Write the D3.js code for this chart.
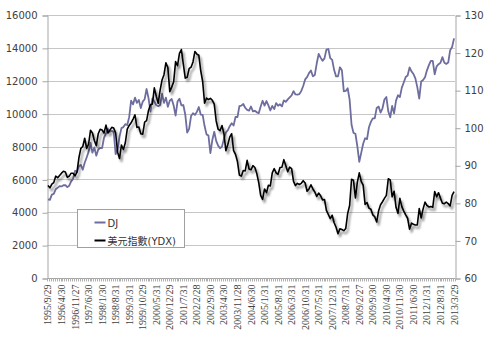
<!DOCTYPE html>
<html>
<head>
<meta charset="utf-8">
<script src="https://cdn.jsdelivr.net/npm/d3@7/dist/d3.min.js"></script>
<style>
  html, body { margin: 0; padding: 0; background: #fff; }
  svg { display: block; }
</style>
</head>
<body>
<svg id="chart" width="489" height="344"></svg>
<script>
// Month-end Dow Jones Industrial Average closes, 1995/9 – 2013/3
const djValues = [
  4789, 4756, 5075, 5117,
  5395, 5486, 5587, 5569, 5643, 5655, 5529, 5616, 5882, 6029, 6522, 6448,
  6813, 6878, 6584, 7009, 7331, 7673, 8223, 7622, 7945, 7442, 7823, 7908,
  7907, 8546, 8800, 9063, 8900, 8952, 8883, 7539, 7843, 8592, 9117, 9181,
  9359, 9307, 9786, 10789, 10560, 10971, 10655, 10829, 10337, 10729, 10878, 11497,
  10941, 10128, 10922, 10734, 10522, 10448, 10522, 11215, 10651, 10971, 10415, 10788,
  10887, 10495, 9879, 10735, 10912, 10502, 10523, 9950, 8848, 9075, 9852, 10022,
  9920, 10106, 10404, 9946, 9925, 9243, 8737, 8664, 7592, 8397, 8896, 8342,
  8054, 7891, 7992, 8480, 8850, 8985, 9234, 9416, 9275, 9801, 9782, 10454,
  10488, 10584, 10358, 10226, 10188, 10435, 10140, 10174, 10080, 10027, 10428, 10783,
  10490, 10766, 10504, 10193, 10467, 10275, 10641, 10482, 10569, 10440, 10806, 10718,
  10865, 10993, 11109, 11367, 11168, 11150, 11186, 11381, 11679, 12081, 12222, 12463,
  12622, 12269, 12354, 13063, 13628, 13409, 13212, 13358, 13896, 13930, 13372, 13265,
  12650, 12266, 12263, 12820, 12638, 11350, 11378, 11544, 10851, 9325, 8829, 8776,
  8001, 7063, 7609, 8168, 8500, 8447, 9172, 9496, 9712, 9713, 10345, 10428,
  10067, 10325, 10857, 11009, 10137, 9774, 10466, 10015, 10788, 11118, 11006, 11578,
  11892, 12226, 12320, 12811, 12570, 12414, 12143, 11614, 10913, 11955, 12046, 12218,
  12633, 12952, 13212, 13214, 12393, 12880, 13009, 13091, 13437, 13096, 13026, 13104,
  13861, 14054, 14579
];

// Month-end US dollar index (YDX), same months
const ydxValues = [
  84.6, 84.0, 85.0, 85.4,
  87.1, 86.7, 87.3, 87.9, 88.4, 88.2, 86.8, 87.1, 87.9, 87.9, 87.2, 88.2,
  92.0, 94.5, 95.0, 97.2, 94.5, 95.6, 99.3, 98.6, 96.6, 95.2, 98.4, 99.6,
  99.4, 98.6, 100.7, 98.6, 99.3, 100.1, 99.9, 98.6, 93.5, 91.8, 95.4, 94.2,
  96.0, 99.6, 100.6, 101.3, 102.3, 103.4, 100.1, 100.2, 98.4, 98.3, 101.5, 101.9,
  104.6, 106.1, 106.3, 110.6, 108.4, 106.5, 110.0, 112.7, 114.1, 117.3, 116.0, 109.6,
  110.8, 112.2, 117.6, 116.5, 119.8, 120.8, 116.9, 113.2, 113.4, 115.7, 116.1, 117.5,
  120.3, 119.6, 119.3, 115.2, 112.3, 106.5, 107.9, 107.5, 107.8, 107.3, 106.3, 101.8,
  99.6, 99.2, 100.6, 98.4, 93.9, 95.5, 97.5, 98.4, 93.9, 92.9, 91.0, 87.4,
  87.1, 88.6, 88.5, 91.3, 89.0, 88.8, 89.9, 89.4, 87.8, 85.4, 82.0, 80.9,
  83.7, 82.7, 84.7, 84.5, 88.0, 89.1, 88.0, 87.6, 89.4, 89.5, 91.5, 89.9,
  88.3, 89.5, 89.1, 85.7, 84.6, 85.2, 84.9, 85.2, 85.9, 85.3, 83.1, 83.7,
  84.8, 83.7, 82.9, 81.7, 82.6, 81.9, 80.8, 80.9, 78.0, 76.9, 75.8, 76.7,
  74.7, 73.5, 71.8, 73.1, 72.9, 72.6, 73.2, 77.2, 79.3, 86.3, 86.0, 81.3,
  85.5, 88.0, 85.7, 84.7, 79.6, 80.1, 78.6, 78.3, 76.8, 76.3, 74.9, 77.9,
  79.5, 80.3, 81.2, 82.0, 86.4, 86.1, 81.6, 83.1, 78.8, 77.2, 81.2, 79.0,
  77.8, 76.8, 75.9, 73.0, 74.6, 74.3, 74.1, 74.1, 78.5, 76.0, 78.4, 80.2,
  79.3, 78.9, 79.0, 78.8, 83.0, 81.6, 82.7, 81.2, 79.9, 79.8, 80.2, 79.8,
  79.2, 82.0, 83.0
];

// Category labels printed along the time axis (every 7th month)
const tickLabels = [
  "1995/9/29", "1996/4/30", "1996/11/27", "1997/6/30", "1998/1/30", "1998/8/31",
  "1999/3/31", "1999/10/29", "2000/5/31", "2000/12/29", "2001/7/31", "2002/2/28",
  "2002/9/30", "2003/4/30", "2003/11/28", "2004/6/30", "2005/1/31", "2005/8/31",
  "2006/3/31", "2006/10/31", "2007/5/31", "2007/12/31", "2008/7/31", "2009/2/27",
  "2009/9/30", "2010/4/30", "2010/11/30", "2011/6/30", "2012/1/31", "2012/8/31",
  "2013/3/29"
];
const labelStep = 7;

const leftTicks = [0, 2000, 4000, 6000, 8000, 10000, 12000, 14000, 16000];
const rightTicks = [60, 70, 80, 90, 100, 110, 120, 130];

const seriesNames = ["DJ", "美元指數(YDX)"];
const seriesColors = ["#6d6d9f", "#000000"];

const svg = d3.select("#chart");
const plot = { left: 47, right: 455, top: 15, bottom: 278 };

const categories = d3.range(djValues.length);
const x = d3.scaleBand().domain(categories).range([plot.left, plot.right]).paddingInner(0).paddingOuter(0);
const cx = i => x(i) + x.bandwidth() / 2;
const yL = d3.scaleLinear().domain([0, 16000]).range([plot.bottom, plot.top]);
const yR = d3.scaleLinear().domain([60, 130]).range([plot.bottom, plot.top]);

// drop shadow for the dollar-index line
const defs = svg.append("defs");
const f = defs.append("filter").attr("id", "shadow").attr("x", "-5%").attr("y", "-5%").attr("width", "110%").attr("height", "120%");
f.append("feGaussianBlur").attr("in", "SourceAlpha").attr("stdDeviation", 1.2).attr("result", "b");
f.append("feOffset").attr("in", "b").attr("dx", 2).attr("dy", 2.5).attr("result", "o");
f.append("feComponentTransfer").attr("in", "o").attr("result", "s")
  .append("feFuncA").attr("type", "linear").attr("slope", 0.45);
const m = f.append("feMerge");
m.append("feMergeNode").attr("in", "s");
m.append("feMergeNode").attr("in", "SourceGraphic");

// horizontal gridlines
svg.append("g").selectAll("line").data(leftTicks).join("line")
  .attr("x1", plot.left).attr("x2", plot.right)
  .attr("y1", d => Math.round(yL(d)) + 0.5).attr("y2", d => Math.round(yL(d)) + 0.5)
  .attr("stroke", "#c6c6c6").attr("stroke-width", 1);

// left axis
const axL = svg.append("g").attr("transform", `translate(${plot.left + 0.5},0.5)`)
  .call(d3.axisLeft(yL).tickValues(leftTicks).tickSize(5).tickPadding(5).tickFormat(d3.format("d")));
// right axis
const axR = svg.append("g").attr("transform", `translate(${plot.right + 0.5},0.5)`)
  .call(d3.axisRight(yR).tickValues(rightTicks).tickSize(5).tickPadding(4).tickFormat(d3.format("d")));
[axL, axR].forEach(a => {
  a.select(".domain").attr("stroke", "#a6a6a6");
  a.selectAll(".tick line").attr("stroke", "#a6a6a6");
  a.selectAll(".tick text").attr("fill", "#404040")
    .style("font-family", "'DejaVu Sans', Verdana, sans-serif").style("font-size", "10px");
});

// bottom category axis with one minor tick per month
const axB = svg.append("g").attr("transform", `translate(0,${plot.bottom + 0.5})`);
axB.append("line").attr("x1", plot.left).attr("x2", plot.right).attr("stroke", "#a6a6a6");
axB.selectAll("line.mt").data(categories.concat([categories.length])).join("line").attr("class", "mt")
  .attr("x1", i => Math.round(i < categories.length ? x(i) : plot.right) + 0.5)
  .attr("x2", i => Math.round(i < categories.length ? x(i) : plot.right) + 0.5)
  .attr("y1", 0).attr("y2", 3).attr("stroke", "#b0b0b0");
axB.selectAll("text").data(tickLabels).join("text")
  .attr("transform", (d, k) => `translate(${cx(k * labelStep) + 3.5},6) rotate(-90)`)
  .attr("text-anchor", "end")
  .attr("fill", "#404040")
  .style("font-family", "'Liberation Serif', 'Times New Roman', serif").style("font-size", "10px")
  .text(d => d);

// series lines
const lineDJ = d3.line().x((d, i) => cx(i)).y(d => yL(d));
const lineYDX = d3.line().x((d, i) => cx(i)).y(d => yR(d));
svg.append("path").datum(djValues).attr("d", lineDJ)
  .attr("fill", "none").attr("stroke", seriesColors[0]).attr("stroke-width", 1.8).attr("stroke-linejoin", "round");
svg.append("path").datum(ydxValues).attr("d", lineYDX)
  .attr("fill", "none").attr("stroke", seriesColors[1]).attr("stroke-width", 1.6).attr("stroke-linejoin", "round")
  .attr("filter", "url(#shadow)");

// legend
const lg = svg.append("g").attr("transform", "translate(77.5,209.5)");
lg.append("rect").attr("width", 107).attr("height", 38).attr("fill", "#fff").attr("stroke", "#a0a0a0");
seriesNames.forEach((name, k) => {
  const yy = 13 + k * 18;
  lg.append("line").attr("x1", 17).attr("x2", 28).attr("y1", yy).attr("y2", yy)
    .attr("stroke", seriesColors[k]).attr("stroke-width", 2);
  lg.append("text").attr("x", 30).attr("y", yy + 4).attr("fill", "#333")
    .style("font-family", "'DejaVu Sans', 'Noto Sans CJK TC', sans-serif").style("font-size", "10px")
    .text(name);
});
</script>
</body>
</html>
